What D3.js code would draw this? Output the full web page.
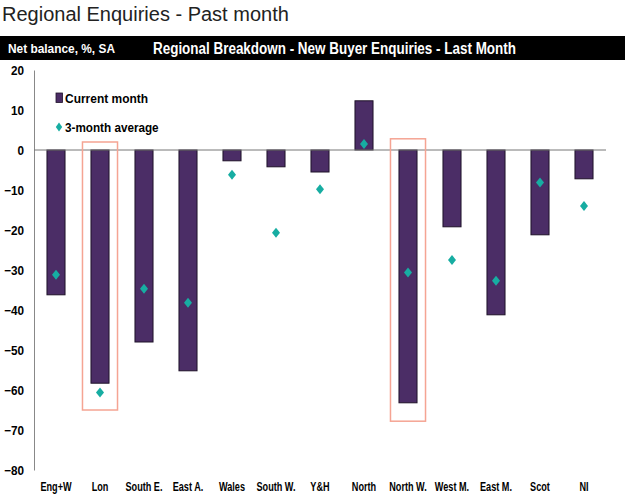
<!DOCTYPE html>
<html><head><meta charset="utf-8">
<script src="https://cdn.jsdelivr.net/npm/d3@7"></script>
<style>
body{margin:0;background:#fff;}
svg{display:block;}
.narrow{font-family:"Liberation Sans",Arial,sans-serif;font-weight:bold;}
</style></head>
<body>
<svg id="c" width="630" height="494"></svg>
<script>
const categories = ["Eng+W","Lon","South E.","East A.","Wales","South W.","Y&H","North","North W.","West M.","East M.","Scot","NI"];
const currentMonth = [-36.2,-58.3,-48,-55.2,-2.7,-4.2,-5.5,12.3,-63.2,-19.2,-41.2,-21.2,-7.2];
const threeMonthAvg = [-31.2,-60.6,-34.7,-38.2,-6.2,-20.7,-9.8,1.5,-30.6,-27.5,-32.7,-8.1,-14];
const yTicks = [20,10,0,-10,-20,-30,-40,-50,-60,-70,-80];
const highlights = [{cat:"Lon",top:2,bottom:-65},{cat:"North W.",top:2.8,bottom:-67.8}];

const svg = d3.select("#c");
const x = d3.scaleBand().domain(categories).range([34,606]).paddingInner(0.59).paddingOuter(0.295);
const y = d3.scaleLinear().domain([-80,20]).range([470,70]);

function condense(sel, f){
  sel.each(function(){
    const w = this.getComputedTextLength();
    d3.select(this).attr("textLength", w*f).attr("lengthAdjust","spacingAndGlyphs");
  });
}

svg.append("text").attr("x",2).attr("y",21)
  .style("font-family","'Liberation Sans',Arial,sans-serif").style("font-size","20px").attr("fill","#222")
  .text("Regional Enquiries - Past month");

svg.append("rect").attr("x",0).attr("y",36).attr("width",625).attr("height",24).attr("fill","#000");
svg.append("text").attr("class","narrow").attr("x",8).attr("y",53).attr("fill","#fff").style("font-size","13.5px").text("Net balance, %, SA").call(condense,0.88);
svg.append("text").attr("class","narrow").attr("x",153).attr("y",54).attr("fill","#fff").style("font-size","16px").text("Regional Breakdown - New Buyer Enquiries - Last Month").call(condense,0.84);

// y axis
const ya = svg.append("g").attr("transform","translate(34,0)")
  .call(d3.axisLeft(y).tickValues(yTicks).tickSize(0).tickPadding(10).tickFormat(d3.format("d")));
ya.select(".domain").attr("stroke","#888");
ya.selectAll("text").attr("class","narrow").style("font-size","13px").attr("fill","#000").call(condense,0.9);

// bars
svg.append("g").selectAll("rect").data(categories).join("rect")
  .attr("x",d=>x(d)).attr("width",x.bandwidth())
  .attr("y",(d,i)=>y(Math.max(0,currentMonth[i])))
  .attr("height",(d,i)=>Math.abs(y(currentMonth[i])-y(0)))
  .attr("fill","#4B2D66").attr("stroke","#1e1228").attr("stroke-width",1);

// zero line
svg.append("line").attr("x1",34).attr("x2",606).attr("y1",y(0)).attr("y2",y(0)).attr("stroke","#777").attr("stroke-width",1);

// highlight boxes
svg.append("g").selectAll("rect").data(highlights).join("rect")
  .attr("x",d=>x(d.cat)-8.5).attr("width",x.bandwidth()+17)
  .attr("y",d=>y(d.top)).attr("height",d=>y(d.bottom)-y(d.top))
  .attr("fill","none").attr("stroke","#F5A493").attr("stroke-width",1.5);

// diamonds
const dia = "M0,-5L4,0L0,5L-4,0Z";
svg.append("g").selectAll("path").data(categories).join("path")
  .attr("transform",(d,i)=>`translate(${x(d)+x.bandwidth()/2},${y(threeMonthAvg[i])})`)
  .attr("d",dia).attr("fill","#17ADA2");

// x labels
svg.append("g").selectAll("text").data(categories).join("text")
  .attr("class","narrow").attr("x",d=>x(d)+x.bandwidth()/2).attr("y",491)
  .attr("text-anchor","middle").style("font-size","12px").attr("fill","#000").text(d=>d).call(condense,0.76);

// legend
svg.append("rect").attr("x",56).attr("y",93).attr("width",6.5).attr("height",9.5).attr("fill","#4B2D66").attr("stroke","#1e1228").attr("stroke-width",0.8);
svg.append("text").attr("class","narrow").attr("x",65).attr("y",102.5).style("font-size","13px").text("Current month").call(condense,0.92);
svg.append("path").attr("transform","translate(59,127)").attr("d","M0,-4.5L3.2,0L0,4.5L-3.2,0Z").attr("fill","#17ADA2");
svg.append("text").attr("class","narrow").attr("x",65).attr("y",131.5).style("font-size","13px").text("3-month average").call(condense,0.9);
</script>
</body></html>
